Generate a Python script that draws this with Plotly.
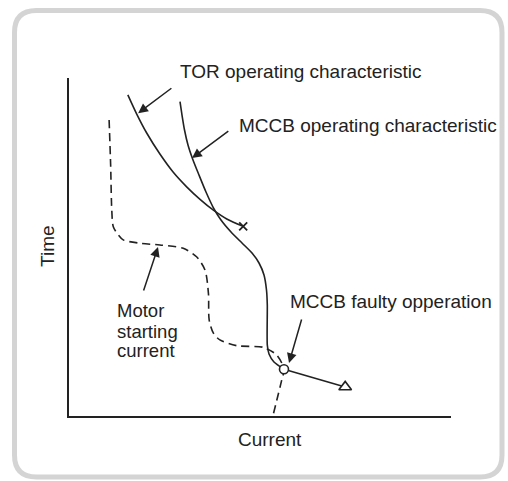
import plotly.graph_objects as go

# ---- data (relative units: Current 0-100, Time 0-100) ----
tor_current = [15.4, 17.7, 20.3, 23.8, 27.3, 30.8, 34.3, 37.8, 41.3, 45.6]
tor_time    = [95.0, 89.4, 83.8, 77.5, 72.1, 67.8, 64.1, 60.9, 58.3, 56.1]

mccb_current = [29.06, 29.58, 30.24, 31.15, 32.46, 34.03, 35.86, 37.70, 39.79, 42.41,
                45.29, 47.91, 49.74, 51.05, 51.70, 51.91, 51.91, 52.36, 53.66, 56.28]
mccb_time    = [92.99, 89.05, 84.62, 80.18, 75.74, 71.30, 66.27, 61.83, 57.99, 54.44,
                51.18, 48.22, 45.27, 41.72, 37.28, 32.84, 21.01, 18.34, 15.98, 13.82]

fault_current = [56.28, 72.3]
fault_time    = [13.82, 8.6]

motor_current = [10.5, 10.9, 11.2, 11.6, 12.9, 14.2, 18.6, 23.8, 29.9, 33.4, 35.6, 36.5, 36.7,
                 37.8, 39.5, 43.9, 50.9, 54.4, 56.28, 55.7, 53.5]
motor_time    = [87.6, 74.3, 60.9, 56.0, 53.6, 52.1, 51.1, 50.6, 49.6, 47.1, 43.2, 36.3, 28.4,
                 24.5, 22.5, 20.8, 20.3, 18.0, 13.82, 10.7, 0.6]

labels = {
    "tor": "TOR operating characteristic",
    "mccb": "MCCB operating characteristic",
    "motor": ["Motor", "starting", "current"],
    "fault": "MCCB faulty opperation",
    "x": "Current",
    "y": "Time",
}

INK = "#222222"
FONT = "Liberation Sans, Arial, Helvetica, sans-serif"

fig = go.Figure()

fig.add_trace(go.Scatter(x=motor_current, y=motor_time, mode="lines",
                         line=dict(color=INK, width=1.6, dash="8px,5px", shape="spline", smoothing=0.8),
                         hoverinfo="skip"))
fig.add_trace(go.Scatter(x=tor_current, y=tor_time, mode="lines",
                         line=dict(color=INK, width=1.6, shape="spline", smoothing=0.8),
                         hoverinfo="skip"))
fig.add_trace(go.Scatter(x=mccb_current, y=mccb_time, mode="lines",
                         line=dict(color=INK, width=1.6, shape="spline", smoothing=0.6),
                         hoverinfo="skip"))
fig.add_trace(go.Scatter(x=fault_current, y=fault_time, mode="lines",
                         line=dict(color=INK, width=1.6), hoverinfo="skip"))
# markers
fig.add_trace(go.Scatter(x=[tor_current[-1]], y=[tor_time[-1]], mode="markers",
                         marker=dict(symbol="x-thin", size=8, line=dict(color=INK, width=1.8)),
                         hoverinfo="skip"))
fig.add_trace(go.Scatter(x=[fault_current[0]], y=[fault_time[0]], mode="markers",
                         marker=dict(symbol="circle", size=9, color="white", line=dict(color=INK, width=1.6)),
                         hoverinfo="skip"))
fig.add_trace(go.Scatter(x=[fault_current[-1]], y=[fault_time[-1]], mode="markers",
                         marker=dict(symbol="triangle-up", size=11, color="white", line=dict(color=INK, width=1.6)),
                         hoverinfo="skip"))

ann = []
# arrows (tip x,y ; tail ax,ay) in data units
arrows = [
    (18.1, 89.6, 27.2, 97.3),
    (32.2, 76.3, 42.1, 84.6),
    (23.3, 50.0, 19.4, 36.7),
    (57.6, 15.7, 61.0, 29.0),
]
for x, y, ax, ay in arrows:
    ann.append(dict(x=x, y=y, ax=ax, ay=ay, xref="x", yref="y", axref="x", ayref="y",
                    text="", showarrow=True, arrowhead=2, arrowsize=1.3, arrowwidth=1.5,
                    arrowcolor=INK, standoff=0))

def text(t, x, y, size=19, xanchor="left", angle=0):
    # positions given in data units; placed in paper coords (axes span 0..100)
    ann.append(dict(x=x / 100.0, y=y / 100.0, xref="paper", yref="paper", text=t, showarrow=False,
                    xanchor=xanchor, yanchor="middle", textangle=angle,
                    font=dict(family=FONT, size=size, color=INK)))

text(labels["tor"], 28.5, 101.8)
text(labels["mccb"], 44.0, 85.9)
for t, yy in zip(labels["motor"], [31.2, 24.9, 19.4]):
    text(t, 12.0, yy, size=18.5)
text(labels["fault"], 57.3, 34.0)
text(labels["x"], 52.6, -7.1, xanchor="center")
text(labels["y"], -5.5, 50.3, xanchor="center", angle=-90)

# rounded border in paper coordinates (plot area spans px 69..451, py 78..416)
def px(v):
    return (v - 69) / 382.0
def py(v):
    return (416 - v) / 338.0
x0, x1, y0, y1, r = 14.5, 502, 10.5, 477, 22
path = (f"M {px(x0+r)},{py(y0)} L {px(x1-r)},{py(y0)} Q {px(x1)},{py(y0)} {px(x1)},{py(y0+r)} "
        f"L {px(x1)},{py(y1-r)} Q {px(x1)},{py(y1)} {px(x1-r)},{py(y1)} "
        f"L {px(x0+r)},{py(y1)} Q {px(x0)},{py(y1)} {px(x0)},{py(y1-r)} "
        f"L {px(x0)},{py(y0+r)} Q {px(x0)},{py(y0)} {px(x0+r)},{py(y0)} Z")

fig.update_layout(
    width=508, height=481,
    margin=dict(l=69, r=57, t=78, b=65),
    paper_bgcolor="white", plot_bgcolor="white",
    showlegend=False,
    annotations=ann,
    shapes=[dict(type="path", path=path, xref="paper", yref="paper",
                 line=dict(color="#d4d4d4", width=5), fillcolor="rgba(0,0,0,0)", layer="below")],
    xaxis=dict(range=[0, 100], showgrid=False, zeroline=False, showticklabels=False, ticks="",
               showline=True, linecolor=INK, linewidth=2, fixedrange=True),
    yaxis=dict(range=[0, 100], showgrid=False, zeroline=False, showticklabels=False, ticks="",
               showline=True, linecolor=INK, linewidth=2, fixedrange=True),
)

fig.write_html("out.html", config={"displayModeBar": False},
               post_script="document.body.style.margin='0';document.body.style.overflow='hidden';")
